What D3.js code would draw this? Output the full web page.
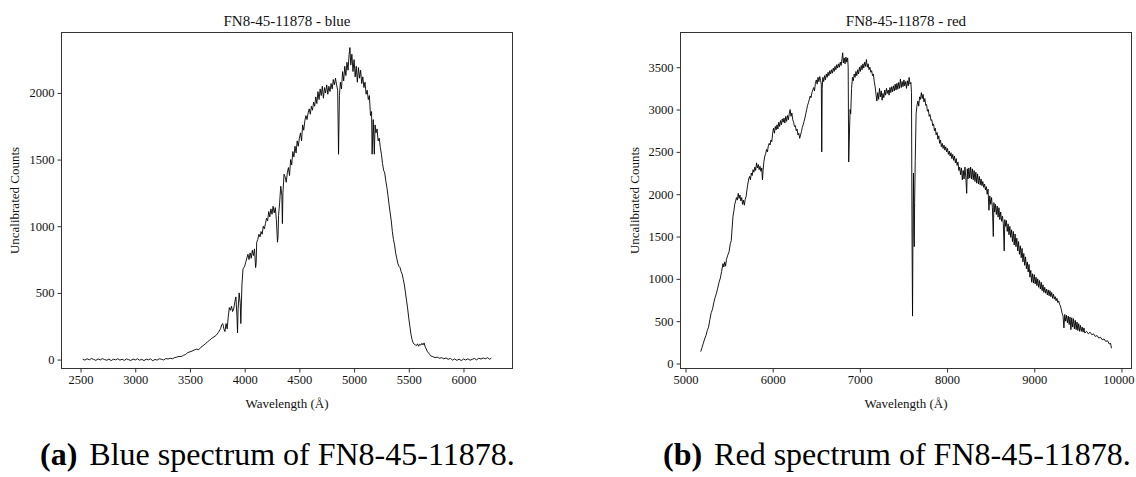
<!DOCTYPE html>
<html>
<head>
<meta charset="utf-8">
<script src="https://cdn.jsdelivr.net/npm/d3@7"></script>
<style>
  body { margin: 0; background: #fff; }
  text { font-family: "Liberation Serif", "Times New Roman", serif; fill: #111; }
</style>
</head>
<body>
<div id="chart"></div>
<script>
// blue arm spectrum, [wavelength (A), counts]
var blue_spectrum = [
  [2520,2],[2540,-4],[2560,6],[2580,-2],[2600,8],[2620,1],[2640,-6],[2660,5],[2680,-3],[2700,7],
  [2720,0],[2740,-5],[2760,4],[2780,-8],[2800,3],[2820,-2],[2840,6],[2860,-4],[2880,2],[2900,-6],
  [2920,5],[2940,-1],[2960,-7],[2980,4],[3000,-3],[3020,6],[3040,-5],[3060,2],[3080,-8],[3100,3],
  [3120,-2],[3140,5],[3160,-9],[3180,1],[3200,-4],[3220,6],[3240,2],[3260,-3],[3280,8],[3300,4],
  [3320,10],[3340,6],[3360,15],[3380,18],[3400,24],[3420,22],[3440,32],[3460,38],[3480,52],[3500,58],
  [3520,64],[3540,72],[3560,78],[3580,74],[3600,92],[3620,104],[3640,118],[3660,132],[3680,146],[3700,160],
  [3720,170],[3740,182],[3760,204],[3780,232],[3790,262],[3800,270],[3810,230],[3820,210],[3830,270],[3840,230],
  [3850,320],[3860,390],[3870,370],[3880,400],[3890,360],[3900,380],[3910,430],[3920,470],[3930,320],[3935,200],
  [3940,380],[3950,500],[3960,420],[3965,270],[3975,560],[3985,680],[4000,700],[4010,730],[4020,760],[4030,790],
  [4040,750],[4050,800],[4060,760],[4070,820],[4080,780],[4090,830],[4100,690],[4105,720],[4110,880],[4120,900],
  [4130,940],[4140,920],[4150,960],[4160,940],[4170,1000],[4180,980],[4190,1020],[4200,1060],[4210,1040],[4220,1110],
  [4230,1070],[4240,1130],[4250,1090],[4260,1150],[4270,1100],[4280,1140],[4290,1050],[4300,880],[4305,920],[4310,1080],
  [4320,1180],[4330,1300],[4340,1230],[4345,1020],[4350,1250],[4360,1390],[4370,1370],[4380,1330],[4390,1400],[4400,1440],
  [4410,1380],[4420,1500],[4430,1460],[4440,1560],[4450,1520],[4460,1600],[4470,1550],[4480,1640],[4490,1600],[4500,1660],
  [4510,1700],[4520,1640],[4530,1760],[4540,1720],[4550,1790],[4560,1830],[4570,1800],[4580,1850],[4590,1880],[4600,1840],
  [4610,1900],[4620,1870],[4630,1930],[4640,1900],[4650,1970],[4660,1920],[4670,2010],[4680,1950],[4690,2030],[4700,1980],
  [4710,2050],[4720,1960],[4730,2040],[4740,2000],[4750,2060],[4760,1990],[4770,2050],[4780,2010],[4790,2070],[4800,2030],
  [4810,2100],[4820,2060],[4830,2110],[4840,2060],[4850,2020],[4858,1540],[4866,1980],[4875,2080],[4885,2030],[4895,2160],
  [4905,2090],[4915,2200],[4925,2130],[4935,2230],[4945,2170],[4955,2290],[4962,2340],[4970,2210],[4980,2290],[4990,2160],
  [5000,2250],[5010,2120],[5020,2200],[5030,2080],[5040,2190],[5050,2110],[5060,2170],[5070,2070],[5080,2120],[5090,2040],
  [5100,2080],[5110,1990],[5120,2020],[5130,1950],[5140,1980],[5150,1830],[5160,1860],[5165,1540],[5175,1800],[5185,1540],
  [5192,1760],[5200,1700],[5210,1730],[5220,1640],[5230,1660],[5240,1590],[5250,1540],[5260,1470],[5270,1420],[5280,1400],
  [5290,1340],[5300,1290],[5310,1230],[5320,1160],[5330,1100],[5340,1040],[5350,960],[5360,900],[5370,860],[5380,800],
  [5390,760],[5400,720],[5410,700],[5420,690],[5430,660],[5440,640],[5450,600],[5460,560],[5470,500],[5480,440],
  [5490,380],[5500,310],[5510,250],[5520,190],[5530,150],[5540,125],[5550,115],[5560,110],[5570,105],[5580,118],
  [5590,100],[5600,115],[5610,108],[5620,122],[5630,110],[5640,125],[5650,95],[5660,80],[5670,60],[5680,50],
  [5690,40],[5700,28],[5720,22],[5740,14],[5760,18],[5780,10],[5800,14],[5820,6],[5840,12],[5860,2],
  [5880,9],[5900,-4],[5920,5],[5940,-6],[5960,3],[5980,-8],[6000,4],[6020,-3],[6040,6],[6060,-5],
  [6080,2],[6100,8],[6120,-2],[6140,10],[6160,4],[6180,12],[6200,6],[6220,14],[6240,2],[6255,12]
];

// red arm spectrum
var red_spectrum = [
  [5175,140],[5190,190],[5205,240],[5220,290],[5235,330],[5250,390],[5265,430],[5280,520],[5295,600],[5310,640],
  [5325,720],[5340,780],[5355,830],[5370,890],[5385,960],[5400,1010],[5415,1090],[5430,1180],[5440,1140],[5450,1200],
  [5460,1150],[5470,1230],[5485,1280],[5500,1320],[5515,1420],[5525,1450],[5535,1600],[5545,1740],[5555,1800],[5565,1880],
  [5575,1920],[5585,1960],[5595,1930],[5605,2010],[5615,1950],[5625,1990],[5635,1920],[5645,1960],[5655,1880],[5665,1930],
  [5675,1870],[5685,1940],[5695,1970],[5705,2050],[5715,2120],[5725,2180],[5735,2210],[5745,2170],[5755,2250],[5765,2220],
  [5775,2290],[5785,2260],[5795,2320],[5805,2280],[5815,2370],[5825,2310],[5835,2350],[5845,2290],[5855,2330],[5865,2270],
  [5875,2310],[5883,2170],[5890,2280],[5900,2390],[5910,2450],[5920,2480],[5930,2530],[5940,2500],[5950,2570],[5960,2600],
  [5970,2580],[5980,2640],[5990,2620],[6000,2720],[6010,2780],[6020,2720],[6030,2800],[6040,2760],[6050,2820],[6060,2770],
  [6070,2850],[6080,2800],[6090,2870],[6100,2820],[6110,2890],[6120,2850],[6130,2900],[6140,2840],[6150,2920],[6160,2860],
  [6170,2930],[6180,2880],[6190,2950],[6200,3000],[6210,2920],[6220,2960],[6230,2880],[6240,2850],[6250,2800],[6260,2810],
  [6270,2750],[6280,2770],[6290,2700],[6300,2720],[6310,2660],[6320,2700],[6330,2740],[6340,2790],[6350,2820],[6360,2860],
  [6370,2900],[6380,2950],[6390,3000],[6400,3050],[6410,3080],[6420,3120],[6430,3160],[6440,3140],[6450,3200],[6460,3230],
  [6470,3260],[6480,3220],[6490,3310],[6500,3350],[6510,3300],[6520,3380],[6530,3330],[6540,3390],[6550,3340],[6558,3300],
  [6563,2500],[6568,3250],[6575,3380],[6585,3330],[6595,3400],[6605,3350],[6615,3420],[6625,3380],[6635,3440],[6645,3400],
  [6655,3460],[6665,3420],[6675,3470],[6685,3430],[6695,3490],[6705,3450],[6715,3510],[6725,3470],[6735,3530],[6745,3490],
  [6755,3540],[6765,3500],[6775,3560],[6785,3520],[6795,3600],[6803,3670],[6810,3550],[6820,3610],[6830,3540],[6840,3620],
  [6850,3560],[6860,3610],[6866,3500],[6872,2380],[6880,2700],[6888,3000],[6895,2950],[6905,3250],[6915,3380],[6925,3340],
  [6935,3420],[6945,3380],[6955,3450],[6965,3400],[6975,3470],[6985,3420],[6995,3500],[7005,3450],[7015,3520],[7025,3470],
  [7035,3540],[7045,3490],[7055,3560],[7065,3510],[7075,3590],[7085,3500],[7095,3540],[7105,3470],[7115,3500],[7125,3440],
  [7135,3460],[7145,3400],[7155,3420],[7165,3330],[7175,3270],[7185,3180],[7195,3100],[7205,3200],[7215,3120],[7225,3250],
  [7235,3150],[7245,3220],[7255,3110],[7265,3190],[7275,3140],[7285,3230],[7295,3170],[7305,3250],[7315,3190],[7325,3230],
  [7335,3170],[7345,3260],[7355,3200],[7365,3270],[7375,3210],[7385,3280],[7395,3220],[7405,3300],[7415,3230],[7425,3310],
  [7435,3240],[7445,3320],[7455,3250],[7465,3360],[7475,3260],[7485,3330],[7495,3270],[7505,3350],[7515,3280],[7525,3330],
  [7535,3250],[7545,3340],[7555,3280],[7565,3380],[7575,3300],[7585,3320],[7592,3200],[7598,1500],[7604,560],[7610,1800],
  [7615,2250],[7620,1500],[7624,1380],[7628,1900],[7635,2400],[7645,2950],[7655,3050],[7665,3100],[7675,3040],[7685,3150],
  [7695,3120],[7705,3200],[7715,3130],[7725,3180],[7735,3090],[7745,3130],[7755,3050],[7765,3060],[7775,2980],[7785,3000],
  [7795,2920],[7805,2940],[7815,2870],[7825,2880],[7835,2810],[7845,2830],[7855,2750],[7865,2780],[7875,2700],[7885,2730],
  [7895,2650],[7905,2690],[7915,2600],[7925,2640],[7935,2560],[7945,2600],[7955,2540],[7965,2580],[7975,2520],[7985,2560],
  [7995,2500],[8005,2540],[8015,2470],[8025,2510],[8035,2450],[8045,2490],[8055,2420],[8065,2470],[8075,2400],[8085,2450],
  [8095,2370],[8105,2420],[8115,2340],[8125,2380],[8135,2280],[8145,2320],[8155,2230],[8165,2310],[8175,2170],[8185,2280],
  [8195,2180],[8205,2320],[8215,2200],[8225,2010],[8232,2300],[8240,2180],[8250,2310],[8260,2190],[8270,2320],[8280,2180],
  [8290,2300],[8300,2170],[8310,2280],[8320,2150],[8330,2260],[8340,2130],[8350,2240],[8360,2120],[8370,2210],[8380,2110],
  [8390,2180],[8400,2100],[8410,2150],[8420,2080],[8430,2120],[8440,2050],[8450,2090],[8460,2000],[8470,2060],[8480,1810],
  [8490,1980],[8500,1880],[8510,1960],[8520,1840],[8530,1500],[8537,1900],[8545,1790],[8555,1880],[8565,1760],[8575,1860],
  [8585,1730],[8595,1840],[8605,1700],[8615,1790],[8625,1680],[8635,1740],[8645,1650],[8655,1330],[8662,1700],[8670,1620],
  [8680,1690],[8690,1560],[8700,1650],[8710,1520],[8720,1620],[8730,1490],[8740,1580],[8750,1440],[8760,1560],[8770,1400],
  [8780,1530],[8790,1380],[8800,1480],[8810,1330],[8820,1440],[8830,1290],[8840,1390],[8850,1250],[8860,1360],[8870,1200],
  [8880,1300],[8890,1160],[8900,1260],[8910,1120],[8920,1200],[8930,1080],[8940,1170],[8950,1020],[8960,1100],[8970,960],
  [8980,1060],[8990,950],[9000,1050],[9010,940],[9020,1020],[9030,920],[9040,1000],[9050,900],[9060,980],[9070,880],
  [9080,960],[9090,860],[9100,930],[9110,840],[9120,900],[9130,830],[9140,880],[9150,810],[9160,870],[9170,800],
  [9180,860],[9190,790],[9200,840],[9210,770],[9220,820],[9230,760],[9240,790],[9250,740],[9260,770],[9270,720],
  [9280,740],[9290,700],[9300,680],[9310,640],[9320,590],[9330,560],[9340,420],[9350,580],[9360,500],[9370,570],
  [9380,480],[9390,560],[9400,460],[9410,550],[9420,400],[9430,540],[9440,430],[9450,530],[9460,410],[9470,510],
  [9480,400],[9490,490],[9500,390],[9510,470],[9520,380],[9530,450],[9540,380],[9550,430],[9560,370],[9570,420],
  [9580,360],[9600,380],[9620,350],[9640,370],[9660,340],[9680,350],[9700,320],[9720,330],[9740,300],[9760,310],
  [9780,280],[9800,290],[9820,260],[9840,270],[9860,230],[9875,240],[9885,180]
];

var blue_xticks = [2500, 3000, 3500, 4000, 4500, 5000, 5500, 6000];
var blue_yticks = [0, 500, 1000, 1500, 2000];
var red_xticks = [5000, 6000, 7000, 8000, 9000, 10000];
var red_yticks = [0, 500, 1000, 1500, 2000, 2500, 3000, 3500];

var titles = ["FN8-45-11878 - blue", "FN8-45-11878 - red"];
var captions = [["(a)", "Blue spectrum of FN8-45-11878."], ["(b)", "Red spectrum of FN8-45-11878."]];

var width = 1136;
var height = 477;

var svg = d3.select('#chart').append('svg')
    .attr('width', width)
    .attr('height', height);

svg.append('rect').attr('width', width).attr('height', height).attr('fill', '#fff');

// one panel = one axes box
function drawPanel(p) {
    var x = d3.scaleLinear().domain(p.xdom).range([p.left, p.right]);
    var y = d3.scaleLinear().domain(p.ydom).range([p.bottom, p.top]);

    var g = svg.append('g');

    var line = d3.line()
        .x(function(d) { return x(d[0]); })
        .y(function(d) { return y(d[1]); });

    g.append('path')
        .datum(p.data)
        .attr('d', line)
        .attr('fill', 'none')
        .attr('stroke', '#000')
        .attr('stroke-width', 0.9)
        .attr('stroke-linejoin', 'round');

    var xAxis = d3.axisBottom(x).tickValues(p.xticks).tickSize(4).tickPadding(3).tickFormat(d3.format('d'));
    var yAxis = d3.axisLeft(y).tickValues(p.yticks).tickSize(4).tickPadding(3).tickFormat(d3.format('d'));

    var gx = g.append('g').attr('transform', 'translate(0,' + p.bottom + ')').call(xAxis);
    var gy = g.append('g').attr('transform', 'translate(' + p.left + ',0)').call(yAxis);
    [gx, gy].forEach(function(a) {
        a.select('.domain').remove();
        a.selectAll('line').attr('stroke', '#333').attr('stroke-width', 1);
        a.selectAll('text')
            .attr('font-family', '"Liberation Serif", serif')
            .attr('font-size', '12.5px')
            .attr('fill', '#111');
    });
    // keep the 10000 label inside the page
    gx.selectAll('text').filter(function(d) { return d >= 10000; }).attr('dx', -3);

    // frame
    g.append('rect')
        .attr('x', p.left).attr('y', p.top)
        .attr('width', p.right - p.left).attr('height', p.bottom - p.top)
        .attr('fill', 'none').attr('stroke', '#333').attr('stroke-width', 1);

    g.append('text')
        .attr('x', (p.left + p.right) / 2).attr('y', p.top - 7)
        .attr('text-anchor', 'middle')
        .attr('font-size', '15px')
        .text(p.title);

    g.append('text')
        .attr('x', (p.left + p.right) / 2).attr('y', p.bottom + 39)
        .attr('text-anchor', 'middle')
        .attr('font-size', '13px')
        .text('Wavelength (\u00C5)');

    g.append('text')
        .attr('transform', 'translate(' + p.ylabelx + ',' + (p.top + p.bottom) / 2 + ') rotate(-90)')
        .attr('text-anchor', 'middle')
        .attr('font-size', '13px')
        .text('Uncalibrated Counts');

    var cap = g.append('text')
        .attr('x', p.capx).attr('y', 465)
        .attr('font-size', '32px')
        .style('fill', '#000');
    cap.append('tspan').attr('font-weight', 'bold').text(p.caption[0]);
    cap.append('tspan').attr('dx', 12).text(p.caption[1]);
}

drawPanel({
    data: blue_spectrum, xticks: blue_xticks, yticks: blue_yticks,
    xdom: [2326, 6448], ydom: [-67, 2453],
    left: 61.5, right: 512.5, top: 32.5, bottom: 368.5,
    ylabelx: 19, title: titles[0], caption: captions[0], capx: 40
});

drawPanel({
    data: red_spectrum, xticks: red_xticks, yticks: red_yticks,
    xdom: [4943, 10115], ydom: [-59, 3910],
    left: 680.5, right: 1131.5, top: 32.5, bottom: 368.5,
    ylabelx: 639, title: titles[1], caption: captions[1], capx: 663
});
</script>
</body>
</html>
